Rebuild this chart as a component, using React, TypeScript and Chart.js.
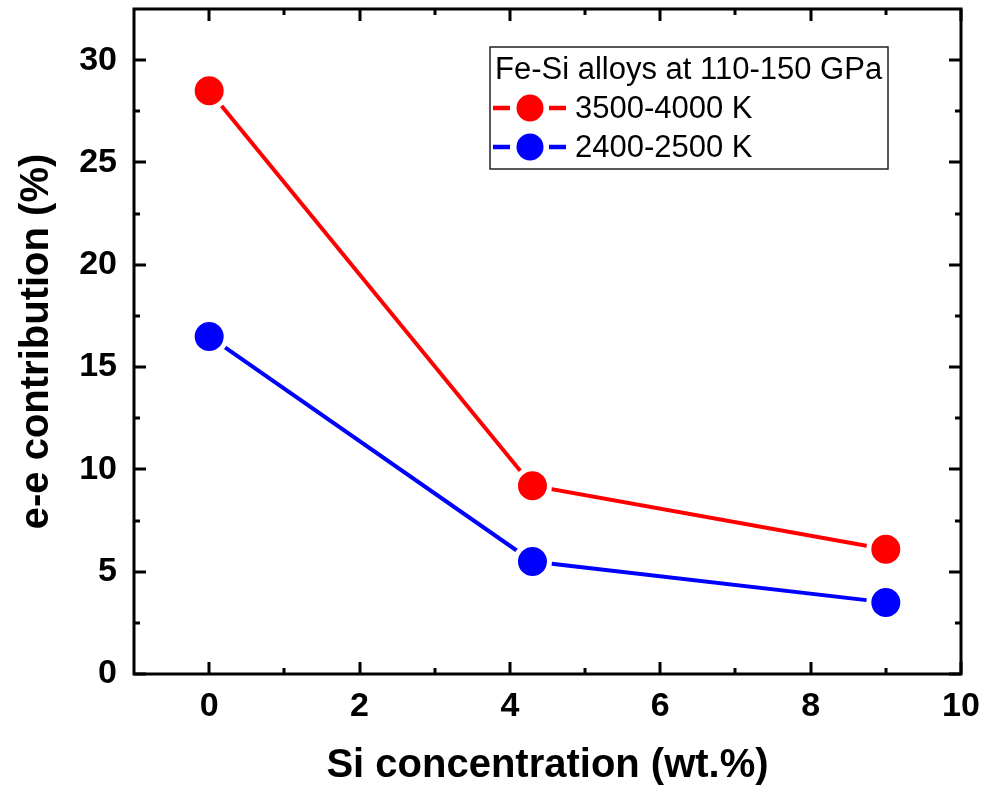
import React, { useEffect, useRef } from "react";
import { Chart, registerables } from "chart.js";

Chart.register(...registerables);

const siConcentration = [0, 4.3, 9];
const highTempValues = [28.5, 9.2, 6.1];
const lowTempValues = [16.5, 5.5, 3.5];
const seriesLabels = ["3500-4000 K", "2400-2500 K"];
const seriesColors = ["#ff0000", "#0000ff"];
const legendTitle = "Fe-Si alloys at 110-150 GPa";
const xAxisTitle = "Si concentration (wt.%)";
const yAxisTitle = "e-e contribution (%)";
const xTicks = [0, 2, 4, 6, 8, 10];
const xMinorTicks = [1, 3, 5, 7, 9];
const yTicks = [0, 5, 10, 15, 20, 25, 30];
const yMinorTicks = [2.5, 7.5, 12.5, 17.5, 22.5, 27.5];

const FONT = "'Liberation Sans', Arial, Helvetica, sans-serif";

const framePlugin = {
  id: "frameTicks",
  afterDraw(chart: any) {
    const { ctx, chartArea } = chart;
    const { left, right, top, bottom } = chartArea;
    const xs = chart.scales.x;
    const ys = chart.scales.y;
    ctx.save();
    ctx.strokeStyle = "#000";
    ctx.lineWidth = 3;
    ctx.lineCap = "butt";
    const major = 12;
    const minor = 6;
    ctx.beginPath();
    const xt = (vals: number[], len: number) => {
      vals.forEach((v) => {
        const px = Math.round(xs.getPixelForValue(v));
        ctx.moveTo(px, bottom);
        ctx.lineTo(px, bottom - len);
        ctx.moveTo(px, top);
        ctx.lineTo(px, top + len);
      });
    };
    const yt = (vals: number[], len: number) => {
      vals.forEach((v) => {
        const py = Math.round(ys.getPixelForValue(v));
        ctx.moveTo(left, py);
        ctx.lineTo(left + len, py);
        ctx.moveTo(right, py);
        ctx.lineTo(right - len, py);
      });
    };
    xt(xTicks, major);
    xt(xMinorTicks, minor);
    yt(yTicks, major);
    yt(yMinorTicks, minor);
    ctx.stroke();
    ctx.lineWidth = 3;
    ctx.strokeRect(left, top, right - left, bottom - top);
    ctx.restore();
  },
};

const legendPlugin = {
  id: "customLegend",
  afterDraw(chart: any) {
    const { ctx } = chart;
    const bx = 490, by = 47, bw = 398, bh = 122;
    ctx.save();
    ctx.fillStyle = "#fff";
    ctx.fillRect(bx, by, bw, bh);
    ctx.strokeStyle = "#222";
    ctx.lineWidth = 1.5;
    ctx.strokeRect(bx, by, bw, bh);
    ctx.fillStyle = "#000";
    ctx.font = `31px ${FONT}`;
    ctx.textBaseline = "alphabetic";
    ctx.textAlign = "left";
    ctx.fillText(legendTitle, bx + 5, by + 32);
    const rows = [by + 61, by + 100];
    chart.data.datasets.forEach((ds: any, i: number) => {
      const cy = rows[i];
      ctx.strokeStyle = ds.borderColor;
      ctx.lineWidth = 4.5;
      ctx.beginPath();
      ctx.moveTo(bx + 3, cy);
      ctx.lineTo(bx + 20, cy);
      ctx.moveTo(bx + 59, cy);
      ctx.lineTo(bx + 76, cy);
      ctx.stroke();
      ctx.fillStyle = ds.backgroundColor;
      ctx.beginPath();
      ctx.arc(bx + 40, cy, 13.5, 0, Math.PI * 2);
      ctx.fill();
      ctx.fillStyle = "#000";
      ctx.textBaseline = "middle";
      ctx.fillText(ds.label, bx + 85, cy + 1);
    });
    ctx.restore();
  },
};

export default function App() {
  const canvasRef = useRef<HTMLCanvasElement | null>(null);

  useEffect(() => {
    document.body.style.margin = "0";
    const canvas = canvasRef.current;
    if (!canvas) return;
    const makeDataset = (label: string, values: number[], color: string) => ({
      label,
      data: siConcentration.map((x, i) => ({ x, y: values[i] })),
      borderColor: color,
      backgroundColor: color,
      borderWidth: 4,
      pointRadius: 17,
      pointHoverRadius: 17,
      pointBorderWidth: 5,
      pointBorderColor: "#ffffff",
      pointBackgroundColor: color,
      fill: false,
      tension: 0,
    });
    const chart = new Chart(canvas, {
      type: "line",
      data: {
        datasets: [
          makeDataset(seriesLabels[0], highTempValues, seriesColors[0]),
          makeDataset(seriesLabels[1], lowTempValues, seriesColors[1]),
        ],
      },
      options: {
        responsive: false,
        animation: false,
        devicePixelRatio: 1,
        layout: { autoPadding: false, padding: { left: 0, top: 9, right: 26, bottom: 0 } },
        plugins: {
          legend: { display: false },
          tooltip: { enabled: false },
          title: { display: false },
        },
        scales: {
          x: {
            type: "linear",
            min: -1,
            max: 10,
            afterBuildTicks: (scale: any) => {
              scale.ticks = xTicks.map((v) => ({ value: v }));
            },
            afterFit: (scale: any) => {
              scale.height = 123;
              scale.paddingLeft = 0;
              scale.paddingRight = 0;
            },
            grid: { display: false, drawTicks: false },
            border: { display: false },
            ticks: {
              color: "#000",
              padding: 12,
              maxRotation: 0,
              autoSkip: false,
              font: { family: FONT, size: 34, weight: "bold" },
              callback: (v: any) => String(v),
            },
            title: {
              display: true,
              text: xAxisTitle,
              color: "#000",
              font: { family: FONT, size: 40, weight: "bold" },
              padding: { top: 0, bottom: 7 },
            },
          },
          y: {
            type: "linear",
            min: 0,
            max: 32.5,
            afterBuildTicks: (scale: any) => {
              scale.ticks = yTicks.map((v) => ({ value: v }));
            },
            afterFit: (scale: any) => {
              scale.width = 134;
              scale.paddingTop = 0;
              scale.paddingBottom = 0;
            },
            grid: { display: false, drawTicks: false },
            border: { display: false },
            ticks: {
              color: "#000",
              padding: 17,
              autoSkip: false,
              font: { family: FONT, size: 34, weight: "bold" },
              callback: (v: any) => String(v),
            },
            title: {
              display: true,
              text: yAxisTitle,
              color: "#000",
              font: { family: FONT, size: 40, weight: "bold" },
              padding: { top: 13, bottom: 0 },
            },
          },
        },
      } as any,
      plugins: [framePlugin, legendPlugin],
    });
    return () => chart.destroy();
  }, []);

  return (
    <div style={{ position: "absolute", left: 0, top: 0, width: 987, height: 797, background: "#fff" }}>
      <canvas ref={canvasRef} width={987} height={797} style={{ display: "block", width: 987, height: 797 }} />
    </div>
  );
}
